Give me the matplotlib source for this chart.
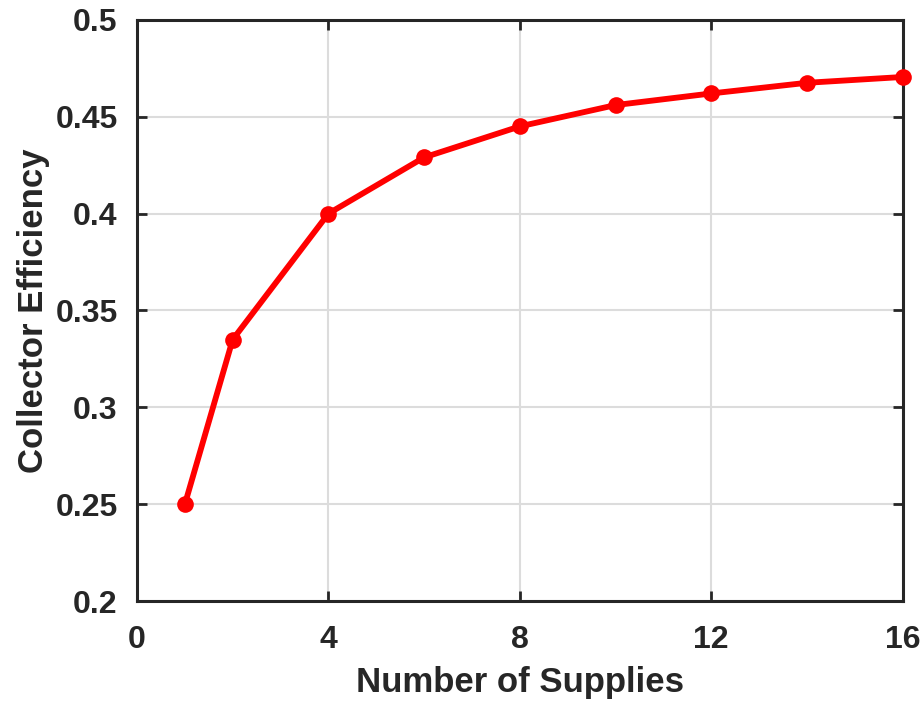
import numpy as np
import matplotlib.pyplot as plt

# data
supplies = [1, 2, 4, 6, 8, 10, 12, 14, 16]
efficiency = [0.250, 0.335, 0.400, 0.429, 0.445, 0.456, 0.462, 0.4675, 0.4705]

x_ticks = [0, 4, 8, 12, 16]
y_ticks = [0.2, 0.25, 0.3, 0.35, 0.4, 0.45, 0.5]
y_tick_labels = ["0.2", "0.25", "0.3", "0.35", "0.4", "0.45", "0.5"]

plt.rcParams["font.family"] = ["Liberation Sans", "DejaVu Sans"]
plt.rcParams["font.weight"] = "bold"

fig = plt.figure(figsize=(9.22, 7.08), dpi=100)
ax = fig.add_axes([0.1486, 0.151, 0.8304, 0.821])

# line with markers
ax.plot(supplies, efficiency, color="red", linewidth=4.2, marker="o",
        markersize=12, markeredgewidth=0, zorder=3, clip_on=False)

# axis limits and ticks
ax.set_xlim(0, 16)
ax.set_ylim(0.2, 0.5)
ax.set_xticks(x_ticks)
ax.set_yticks(y_ticks)
ax.set_yticklabels(y_tick_labels)
ax.tick_params(direction="in", length=7, width=2, top=True, right=True,
               labelsize=23, colors="#262626", pad=14)
ax.tick_params(axis="x", pad=17)
ax.grid(True, color="#dcdcdc", linewidth=1.5)
ax.set_axisbelow(True)

for spine in ax.spines.values():
    spine.set_linewidth(2.2)
    spine.set_color("#262626")

# plot details
ax.set_xlabel("Number of Supplies", fontsize=25, fontweight="bold",
              labelpad=8, color="#262626")
ax.set_ylabel("Collector Efficiency", fontsize=25, fontweight="bold",
              labelpad=4, color="#262626")

plt.savefig("out.png", dpi=100)
